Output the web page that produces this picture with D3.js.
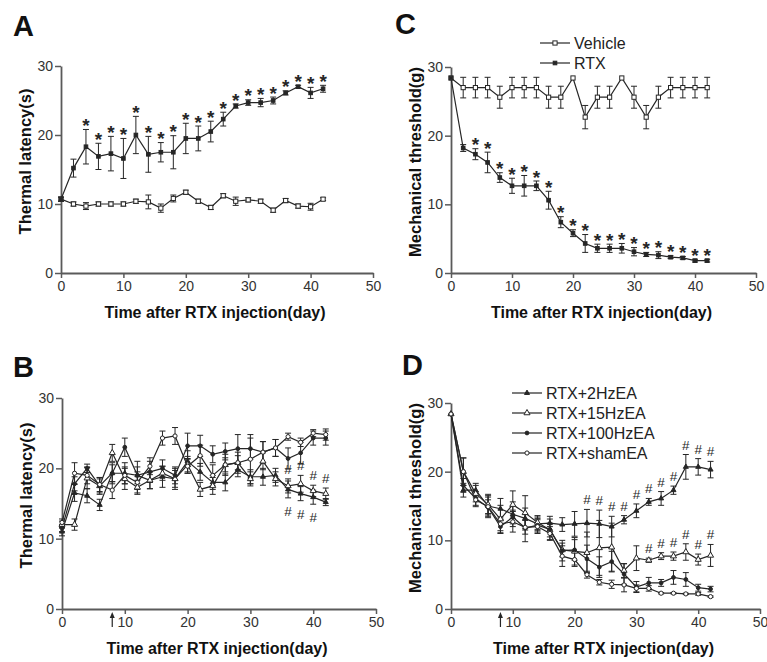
<!DOCTYPE html>
<html>
<head>
<meta charset="utf-8">
<script src="https://cdn.jsdelivr.net/npm/d3@7"></script>
<style>
  body { margin: 0; background: #fff; }
  svg text { font-family: Arial, "Liberation Sans", sans-serif; }
</style>
</head>
<body>
<svg id="chart" width="767" height="662"></svg>
<script>
// Days after RTX injection (shared by every panel)
const days = [0, 2, 4, 6, 8, 10, 12, 14, 16, 18, 20, 22, 24, 26, 28, 30, 32, 34, 36, 38, 40, 42];
const xTicks = [0, 10, 20, 30, 40, 50];
const yTicks = [0, 10, 20, 30];

// Panel A: thermal latency (s)
const thermalVehicle    = [10.7, 10.0, 9.7, 10.0, 10.0, 10.0, 10.4, 10.3, 9.4, 10.8, 11.7, 10.4, 9.5, 11.2, 10.4, 10.6, 10.4, 9.1, 10.5, 9.7, 9.6, 10.7];
const thermalVehicleSem = [0.3, 0.3, 0.5, 0.3, 0.3, 0.3, 0.3, 1.0, 0.6, 0.5, 0.3, 0.3, 0.3, 0.3, 0.6, 0.3, 0.3, 0.3, 0.3, 0.3, 0.5, 0.2];
const thermalRtx        = [10.7, 15.2, 18.3, 16.9, 17.3, 16.6, 20.0, 17.2, 17.5, 17.5, 19.5, 19.5, 20.5, 22.3, 24.2, 24.7, 24.7, 25.0, 26.1, 27.0, 26.1, 26.7];
const thermalRtxSem     = [0.3, 1.3, 2.5, 1.9, 2.5, 2.9, 2.7, 2.6, 1.4, 2.4, 2.2, 1.8, 1.5, 1.0, 0.3, 0.4, 0.6, 0.5, 0.3, 0.2, 0.8, 0.5];
const thermalRtxStars   = [4, 6, 8, 10, 12, 14, 16, 18, 20, 22, 24, 26, 28, 30, 32, 34, 36, 38, 40, 42];

// Panel C: mechanical threshold (g)
const mechVehicle    = [28.4, 27.0, 27.0, 27.0, 25.6, 27.0, 27.0, 27.0, 25.6, 25.6, 28.4, 22.7, 25.6, 25.6, 28.4, 25.6, 22.7, 25.6, 27.0, 27.0, 27.0, 27.0];
const mechVehicleSem = [0, 1.5, 1.5, 1.5, 1.6, 1.5, 1.5, 1.5, 1.6, 1.6, 0, 1.7, 1.6, 1.6, 0, 1.6, 1.7, 1.6, 1.5, 1.5, 1.5, 1.5];
const mechRtx        = [28.4, 18.2, 17.3, 16.1, 13.9, 12.7, 12.7, 12.7, 10.6, 7.4, 5.8, 4.3, 3.6, 3.6, 3.6, 3.1, 2.7, 2.6, 2.3, 2.2, 1.8, 1.8];
const mechRtxSem     = [0, 0.5, 0.8, 1.5, 0.7, 1.1, 1.5, 0.7, 1.3, 0.8, 0.5, 1.3, 0.6, 0.6, 0.7, 0.6, 0.3, 0.5, 0.2, 0.2, 0.2, 0.2];
const mechRtxStars   = [4, 6, 8, 10, 12, 14, 16, 18, 20, 22, 24, 26, 28, 30, 32, 34, 36, 38, 40, 42];

// Panel B: thermal latency (s) with EA
const thermal2Hz      = [11.0, 16.5, 16.1, 14.8, 19.3, 19.3, 19.0, 18.3, 18.8, 18.5, 21.0, 19.5, 18.0, 18.0, 19.8, 18.8, 18.8, 19.0, 17.0, 16.4, 15.9, 15.2];
const thermal2HzSem   = [0.6, 1.2, 1.0, 0.8, 1.5, 1.5, 1.2, 1.2, 1.5, 1.2, 1.5, 1.2, 1.0, 1.2, 1.0, 1.0, 1.2, 1.0, 1.2, 1.0, 1.0, 0.5];
const thermal15Hz     = [12.0, 12.0, 18.6, 17.5, 22.2, 18.5, 17.3, 18.3, 19.3, 18.5, 20.5, 17.0, 17.5, 20.5, 20.8, 18.5, 21.0, 18.5, 17.5, 17.8, 16.8, 16.4];
const thermal15HzSem  = [0.5, 0.8, 1.5, 1.0, 1.2, 1.5, 1.0, 1.2, 1.0, 1.5, 1.2, 1.0, 1.2, 1.5, 1.5, 1.0, 1.2, 1.0, 1.0, 1.2, 0.8, 0.8];
const thermal100Hz    = [11.5, 17.8, 20.0, 17.5, 19.3, 23.0, 19.0, 19.5, 20.0, 19.0, 23.2, 23.2, 22.0, 22.4, 22.8, 22.8, 22.3, 22.9, 21.4, 22.2, 24.3, 24.3];
const thermal100HzSem = [0.5, 1.0, 0.6, 1.2, 1.2, 1.3, 2.0, 1.5, 1.2, 1.2, 1.8, 1.5, 1.2, 1.2, 2.0, 1.5, 1.5, 1.2, 1.5, 1.5, 1.0, 1.0];
const thermalSham     = [12.3, 19.3, 19.0, 17.7, 16.9, 19.0, 18.0, 20.3, 24.3, 24.6, 20.3, 21.8, 19.0, 20.5, 20.8, 21.3, 22.3, 22.9, 24.5, 23.7, 25.0, 24.8];
const thermalShamSem  = [0.5, 1.5, 1.2, 1.0, 1.2, 1.2, 1.5, 1.2, 1.0, 1.2, 1.0, 1.5, 1.5, 1.0, 1.0, 3.5, 1.5, 1.2, 0.5, 0.6, 0.5, 0.8];
const thermal15HzHash = [36, 38, 40, 42];
const thermal2HzHash  = [36, 38, 40];

// Panel D: mechanical threshold (g) with EA
const mech2Hz      = [28.4, 17.3, 17.3, 15.0, 14.6, 13.8, 13.2, 12.4, 12.5, 12.3, 12.4, 12.5, 12.4, 12.0, 13.0, 14.3, 15.6, 16.1, 17.3, 20.7, 20.7, 20.3];
const mech2HzSem   = [0, 1.0, 1.0, 1.5, 1.5, 1.8, 1.5, 1.0, 1.0, 1.0, 1.8, 2.0, 2.0, 1.5, 0.6, 1.0, 0.5, 1.0, 0.6, 1.8, 1.2, 1.2];
const mech15Hz     = [28.4, 20.0, 16.8, 15.2, 13.1, 15.2, 14.0, 12.6, 11.5, 8.6, 8.4, 8.2, 8.9, 9.0, 5.6, 7.4, 7.1, 7.7, 7.7, 8.3, 7.2, 7.8];
const mech15HzSem  = [0, 2.0, 1.2, 1.5, 2.0, 2.0, 2.5, 1.0, 1.0, 1.0, 2.0, 3.0, 4.0, 3.5, 1.0, 1.8, 0.3, 0.5, 0.6, 1.2, 0.8, 1.6];
const mech100Hz    = [28.4, 18.0, 16.1, 14.8, 12.0, 13.4, 11.8, 12.2, 11.6, 8.5, 8.6, 7.3, 6.1, 6.9, 5.1, 3.2, 3.8, 3.8, 4.6, 4.3, 3.1, 2.9];
const mech100HzSem = [0, 1.0, 1.0, 1.5, 1.0, 1.0, 2.0, 1.0, 1.5, 1.5, 1.5, 2.0, 1.5, 1.5, 1.5, 0.8, 0.8, 0.5, 1.0, 1.0, 0.5, 0.4];
const mechSham     = [28.4, 20.0, 15.9, 14.9, 12.4, 12.7, 11.9, 12.0, 11.0, 7.7, 7.2, 5.0, 3.9, 3.6, 3.5, 3.0, 3.0, 2.3, 2.3, 2.2, 2.2, 1.8];
const mechShamSem  = [0, 2.0, 1.0, 1.0, 1.0, 1.5, 1.0, 1.0, 1.0, 1.5, 1.0, 0.5, 0.4, 0.6, 1.0, 0.5, 0.4, 0.1, 0.1, 0.1, 0.2, 0.1];
const mech2HzHash  = [22, 24, 26, 28, 30, 32, 34, 36, 38, 40, 42];
const mech15HzHash = [32, 34, 36, 38, 40, 42];

const eaDay = 8; // arrow: start of EA

const ink = "#262626";
const axisColor = "#5a5a5a";
const svg = d3.select("#chart");

function drawMarker(g, type, cx, cy) {
  const filled = type.startsWith("filled");
  const fill = filled ? ink : "#fff";
  if (type.endsWith("Square")) {
    const s = filled ? 3.6 : 4.2;
    g.append("rect").attr("x", cx - s / 2).attr("y", cy - s / 2).attr("width", s).attr("height", s)
      .attr("fill", fill).attr("stroke", ink).attr("stroke-width", 1);
  } else if (type.endsWith("Triangle")) {
    g.append("path").attr("d", d3.symbol().type(d3.symbolTriangle).size(filled ? 11 : 16)())
      .attr("transform", `translate(${cx},${cy})`)
      .attr("fill", fill).attr("stroke", ink).attr("stroke-width", 1);
  } else {
    g.append("circle").attr("cx", cx).attr("cy", cy).attr("r", filled ? 1.9 : 2.1)
      .attr("fill", fill).attr("stroke", ink).attr("stroke-width", 1);
  }
}

function drawPanel(p) {
  const g = svg.append("g");
  const x = d3.scaleLinear().domain([0, 50]).range([p.left, p.right]);
  const y = d3.scaleLinear().domain([0, 30]).range([p.bottom, p.top]);

  // panel letter
  g.append("text").attr("x", p.letterX).attr("y", p.letterY)
    .style("font-size", "29px").style("font-weight", "bold").attr("fill", "#111")
    .text(p.letter);

  // axes
  const xAxis = g.append("g").attr("transform", `translate(0,${p.bottom})`)
    .call(d3.axisBottom(x).tickValues(xTicks).tickSize(5).tickPadding(3).tickSizeOuter(0));
  const yAxis = g.append("g").attr("transform", `translate(${p.left},0)`)
    .call(d3.axisLeft(y).tickValues(yTicks).tickSize(6).tickPadding(2).tickSizeOuter(0));
  [xAxis, yAxis].forEach(a => {
    a.select(".domain").attr("stroke", axisColor).attr("stroke-width", 1.8);
    a.selectAll(".tick line").attr("stroke", axisColor).attr("stroke-width", 1.5);
    a.selectAll(".tick text").attr("fill", "#333").style("font-size", "14px")
      .style("font-family", "Arial, 'Liberation Sans', sans-serif");
  });

  // axis titles
  g.append("text").attr("x", (p.left + p.right) / 2 - 2).attr("y", p.bottom + 45)
    .attr("text-anchor", "middle").style("font-size", "16px").style("font-weight", "bold")
    .attr("fill", "#111").text("Time after RTX injection(day)");
  g.append("text").attr("transform", `translate(${p.left - 30},${(p.top + p.bottom) / 2 - 8}) rotate(-90)`)
    .attr("text-anchor", "middle").style("font-size", "16.5px").style("font-weight", "bold")
    .attr("fill", "#111").text(p.yTitle);

  // EA arrow
  if (p.arrow) {
    const ax = x(eaDay);
    g.append("line").attr("x1", ax).attr("x2", ax).attr("y1", p.bottom + 7).attr("y2", p.bottom + 18)
      .attr("stroke", ink).attr("stroke-width", 1.2);
    g.append("path").attr("d", `M${ax - 2.5},${p.bottom + 9}L${ax},${p.bottom + 3}L${ax + 2.5},${p.bottom + 9}Z`)
      .attr("fill", ink);
  }

  const line = d3.line().x(d => x(d[0])).y(d => y(d[1]));

  // error bars
  p.series.forEach(s => {
    days.forEach((d, i) => {
      const e = s.sem[i];
      if (!e) return;
      const cx = x(d);
      g.append("line").attr("x1", cx).attr("x2", cx).attr("y1", y(s.values[i] - e)).attr("y2", y(s.values[i] + e))
        .attr("stroke", ink).attr("stroke-width", 1);
      [s.values[i] - e, s.values[i] + e].forEach(v => {
        g.append("line").attr("x1", cx - 3).attr("x2", cx + 3).attr("y1", y(v)).attr("y2", y(v))
          .attr("stroke", ink).attr("stroke-width", 1);
      });
    });
  });

  // lines and markers
  p.series.forEach(s => {
    g.append("path").datum(days.map((d, i) => [d, s.values[i]]))
      .attr("d", line).attr("fill", "none").attr("stroke", ink).attr("stroke-width", 1.2);
  });
  p.series.forEach(s => {
    days.forEach((d, i) => drawMarker(g, s.marker, x(d), y(s.values[i])));
  });

  // significance marks
  (p.marks || []).forEach(m => {
    m.days.forEach(d => {
      const i = days.indexOf(d);
      const v = m.below ? m.series.values[i] - m.series.sem[i] : m.series.values[i] + m.series.sem[i];
      const star = m.symbol === "*";
      const py = m.below ? y(v) + 18 : y(v) - (star ? 6 : 5);
      g.append("text").attr("x", x(d)).attr("y", py).attr("text-anchor", "middle")
        .style("font-size", star ? "19px" : "13.5px")
        .style("font-weight", star ? "bold" : "normal")
        .attr("fill", ink).text(m.symbol)
        .attr("dy", star ? "0.45em" : "0");
    });
  });

  // legend
  if (p.legend) {
    p.series.forEach((s, i) => {
      const ly = p.legend.y + i * p.legend.step;
      g.append("line").attr("x1", p.legend.x).attr("x2", p.legend.x + 30).attr("y1", ly).attr("y2", ly)
        .attr("stroke", ink).attr("stroke-width", 1.2);
      drawMarker(g, s.marker, p.legend.x + 15, ly);
      g.append("text").attr("x", p.legend.x + 34).attr("y", ly + 5.5)
        .style("font-size", "16px").attr("fill", "#222").text(s.name);
    });
  }
}

const vehicleA = { name: "Vehicle", values: thermalVehicle, sem: thermalVehicleSem, marker: "openSquare" };
const rtxA = { name: "RTX", values: thermalRtx, sem: thermalRtxSem, marker: "filledSquare" };
const vehicleC = { name: "Vehicle", values: mechVehicle, sem: mechVehicleSem, marker: "openSquare" };
const rtxC = { name: "RTX", values: mechRtx, sem: mechRtxSem, marker: "filledSquare" };

const b2 = { name: "RTX+2HzEA", values: thermal2Hz, sem: thermal2HzSem, marker: "filledTriangle" };
const b15 = { name: "RTX+15HzEA", values: thermal15Hz, sem: thermal15HzSem, marker: "openTriangle" };
const b100 = { name: "RTX+100HzEA", values: thermal100Hz, sem: thermal100HzSem, marker: "filledCircle" };
const bSham = { name: "RTX+shamEA", values: thermalSham, sem: thermalShamSem, marker: "openCircle" };

const d2 = { name: "RTX+2HzEA", values: mech2Hz, sem: mech2HzSem, marker: "filledTriangle" };
const d15 = { name: "RTX+15HzEA", values: mech15Hz, sem: mech15HzSem, marker: "openTriangle" };
const d100 = { name: "RTX+100HzEA", values: mech100Hz, sem: mech100HzSem, marker: "filledCircle" };
const dSham = { name: "RTX+shamEA", values: mechSham, sem: mechShamSem, marker: "openCircle" };

drawPanel({
  letter: "A", letterX: 13, letterY: 36,
  left: 61, right: 373, top: 66, bottom: 273,
  yTitle: "Thermal latency(s)",
  series: [vehicleA, rtxA],
  marks: [{ series: rtxA, days: thermalRtxStars, symbol: "*" }]
});

drawPanel({
  letter: "C", letterX: 395, letterY: 34,
  left: 451, right: 756, top: 67, bottom: 273,
  yTitle: "Mechanical threshold(g)",
  series: [vehicleC, rtxC],
  marks: [{ series: rtxC, days: mechRtxStars, symbol: "*" }],
  legend: { x: 540, y: 43, step: 20 }
});

drawPanel({
  letter: "B", letterX: 13, letterY: 377,
  left: 62, right: 376, top: 398, bottom: 609,
  yTitle: "Thermal latency(s)",
  series: [b2, b15, b100, bSham],
  arrow: true,
  marks: [
    { series: b15, days: thermal15HzHash, symbol: "#" },
    { series: b2, days: thermal2HzHash, symbol: "#", below: true }
  ]
});

drawPanel({
  letter: "D", letterX: 402, letterY: 375,
  left: 451, right: 760, top: 403, bottom: 609,
  yTitle: "Mechanical threshold(g)",
  series: [d2, d15, d100, dSham],
  arrow: true,
  marks: [
    { series: d2, days: mech2HzHash, symbol: "#" },
    { series: d15, days: mech15HzHash, symbol: "#" }
  ],
  legend: { x: 512, y: 393, step: 20 }
});
</script>
</body>
</html>
